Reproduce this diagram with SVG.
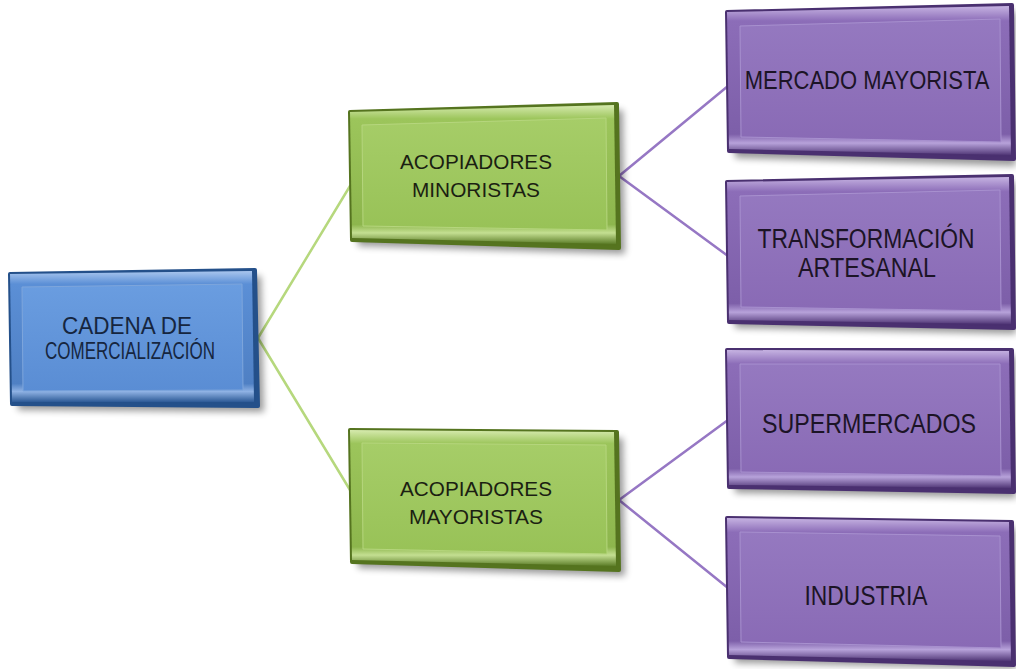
<svg xmlns="http://www.w3.org/2000/svg" width="1016" height="669" viewBox="0 0 1016 669">
  <defs>
    <filter id="shadow" x="-10%" y="-10%" width="130%" height="130%">
      <feGaussianBlur stdDeviation="3.5"/>
    </filter>
    <linearGradient id="bevelBlue" x1="0" y1="0" x2="0" y2="1">
      <stop offset="0" stop-color="#a9c6ee"/>
      <stop offset="0.1" stop-color="#5b8fd6"/>
      <stop offset="0.86" stop-color="#4f80c4"/>
      <stop offset="0.92" stop-color="#8fb2e4"/>
      <stop offset="1" stop-color="#2d5a96"/>
    </linearGradient>
    <linearGradient id="faceBlue" x1="0" y1="0" x2="0" y2="1">
      <stop offset="0" stop-color="#6a9de0"/>
      <stop offset="1" stop-color="#5a8dd4"/>
    </linearGradient>
    <linearGradient id="bevelGreen" x1="0" y1="0" x2="0" y2="1">
      <stop offset="0" stop-color="#d6eaae"/>
      <stop offset="0.1" stop-color="#9cc55b"/>
      <stop offset="0.86" stop-color="#8db64d"/>
      <stop offset="0.92" stop-color="#c4df92"/>
      <stop offset="1" stop-color="#5c7d28"/>
    </linearGradient>
    <linearGradient id="faceGreen" x1="0" y1="0" x2="0" y2="1">
      <stop offset="0" stop-color="#a6cd68"/>
      <stop offset="1" stop-color="#98c257"/>
    </linearGradient>
    <linearGradient id="bevelPurple" x1="0" y1="0" x2="0" y2="1">
      <stop offset="0" stop-color="#c6b3e2"/>
      <stop offset="0.1" stop-color="#8c6db8"/>
      <stop offset="0.86" stop-color="#7d5fa9"/>
      <stop offset="0.92" stop-color="#b7a2da"/>
      <stop offset="1" stop-color="#513777"/>
    </linearGradient>
    <linearGradient id="facePurple" x1="0" y1="0" x2="0" y2="1">
      <stop offset="0" stop-color="#9579c0"/>
      <stop offset="1" stop-color="#896ab5"/>
    </linearGradient>
  </defs>
  <style>
    .shadow { fill: #000; opacity: 0.4; filter: url(#shadow); }
    .lbl { font-family: "Liberation Sans", Arial, sans-serif; text-anchor: middle; }
    .blue .base { fill: #24508a; stroke: #24508a; stroke-width: 4; stroke-linejoin: round; }
    .blue .bevel { fill: url(#bevelBlue); stroke: none; }
    .blue .face { fill: url(#faceBlue); stroke: #7ea6dc; stroke-width: 1; }
    .blue .lbl { fill: #16263f; }
    .green .base { fill: #55741f; stroke: #55741f; stroke-width: 4; stroke-linejoin: round; }
    .green .bevel { fill: url(#bevelGreen); }
    .green .face { fill: url(#faceGreen); stroke: #b6d67e; stroke-width: 1; }
    .green .lbl { fill: #1b1f12; font-size: 21px; }
    .purple .base { fill: #4a3070; stroke: #4a3070; stroke-width: 4; stroke-linejoin: round; }
    .purple .bevel { fill: url(#bevelPurple); }
    .purple .face { fill: url(#facePurple); stroke: #a891cf; stroke-width: 1; }
    .purple .lbl { fill: #1c1426; font-size: 27px; }
    .edge-green { stroke: #b6d87d; stroke-width: 2.5; fill: none; stroke-linecap: round; }
    .edge-purple { stroke: #9677c4; stroke-width: 2.5; fill: none; stroke-linecap: round; }
  </style>

  <!-- connectors -->
  <g id="connectors">
    <path class="edge-green" d="M258,338 L350,186"/>
    <path class="edge-green" d="M258,338 L350,490"/>
    <path class="edge-purple" d="M619,176 L728,86"/>
    <path class="edge-purple" d="M619,176 L728,256"/>
    <path class="edge-purple" d="M619,500 L728,420"/>
    <path class="edge-purple" d="M619,500 L728,588"/>
  </g>

  <!-- root -->
  <g id="node-cadena" class="blue">
    <polygon class="shadow" points="16,280 261,276 264,412 18,410"/>
    <polygon class="base" points="10,274 255,270 258,406 12,404"/>
    <polygon class="bevel" points="10,274 252,271 254,402 12,402"/>
    <polygon class="face" points="22,287 242,284 243,390 23,391"/>
    <text class="lbl" x="127" y="334" font-size="24" textLength="130" lengthAdjust="spacingAndGlyphs">CADENA DE</text>
    <text class="lbl" x="130" y="359" font-size="23" textLength="170" lengthAdjust="spacingAndGlyphs">COMERCIALIZACIÓN</text>
  </g>

  <!-- level 2 -->
  <g id="node-minoristas" class="green">
    <polygon class="shadow" points="356,118 623,110 625,254 358,246"/>
    <polygon class="base" points="350,112 617,104 619,248 352,240"/>
    <polygon class="bevel" points="350,112 614,105 616,244 352,238"/>
    <polygon class="face" points="362,125 606,118 607,230 363,226"/>
    <text class="lbl" x="476" y="169" textLength="152" lengthAdjust="spacingAndGlyphs">ACOPIADORES</text>
    <text class="lbl" x="476" y="197" textLength="128" lengthAdjust="spacingAndGlyphs">MINORISTAS</text>
  </g>

  <g id="node-mayoristas" class="green">
    <polygon class="shadow" points="356,436 623,438 625,576 358,568"/>
    <polygon class="base" points="350,430 617,432 619,570 352,562"/>
    <polygon class="bevel" points="350,430 614,432 616,566 352,560"/>
    <polygon class="face" points="362,443 606,445 607,554 363,549"/>
    <text class="lbl" x="476" y="496" textLength="152" lengthAdjust="spacingAndGlyphs">ACOPIADORES</text>
    <text class="lbl" x="476" y="524" textLength="134" lengthAdjust="spacingAndGlyphs">MAYORISTAS</text>
  </g>

  <!-- level 3 -->
  <g id="node-mercado" class="purple">
    <polygon class="shadow" points="733,18 1016,11 1016,166 735,158"/>
    <polygon class="base" points="727,12 1012,5 1014,159 729,151"/>
    <polygon class="bevel" points="727,12 1009,6 1011,155 729,149"/>
    <polygon class="face" points="740,26 1000,19 1001,142 741,137"/>
    <text class="lbl" transform="translate(867,89) scale(1,1.2)" x="0" y="0" style="font-size:22px">MERCADO MAYORISTA</text>
  </g>

  <g id="node-transformacion" class="purple">
    <polygon class="shadow" points="733,188 1016,182 1016,334 735,328"/>
    <polygon class="base" points="727,182 1012,176 1014,328 729,322"/>
    <polygon class="bevel" points="727,182 1009,177 1011,324 729,320"/>
    <polygon class="face" points="740,196 1000,190 1001,311 741,307"/>
    <text class="lbl" x="866" y="248" textLength="217" lengthAdjust="spacingAndGlyphs">TRANSFORMACIÓN</text>
    <text class="lbl" x="867" y="277" textLength="138" lengthAdjust="spacingAndGlyphs">ARTESANAL</text>
  </g>

  <g id="node-supermercados" class="purple">
    <polygon class="shadow" points="733,356 1016,356 1016,498 735,493"/>
    <polygon class="base" points="727,350 1012,350 1014,492 729,487"/>
    <polygon class="bevel" points="727,350 1009,351 1011,488 729,485"/>
    <polygon class="face" points="740,364 1000,364 1001,476 741,472"/>
    <text class="lbl" x="869" y="433" textLength="214" lengthAdjust="spacingAndGlyphs">SUPERMERCADOS</text>
  </g>

  <g id="node-industria" class="purple">
    <polygon class="shadow" points="733,524 1016,528 1016,669 735,663"/>
    <polygon class="base" points="727,518 1012,522 1014,665 729,657"/>
    <polygon class="bevel" points="727,518 1009,522 1011,661 729,655"/>
    <polygon class="face" points="740,532 1000,536 1001,648 741,642"/>
    <text class="lbl" x="866" y="605" textLength="123" lengthAdjust="spacingAndGlyphs">INDUSTRIA</text>
  </g>
</svg>
